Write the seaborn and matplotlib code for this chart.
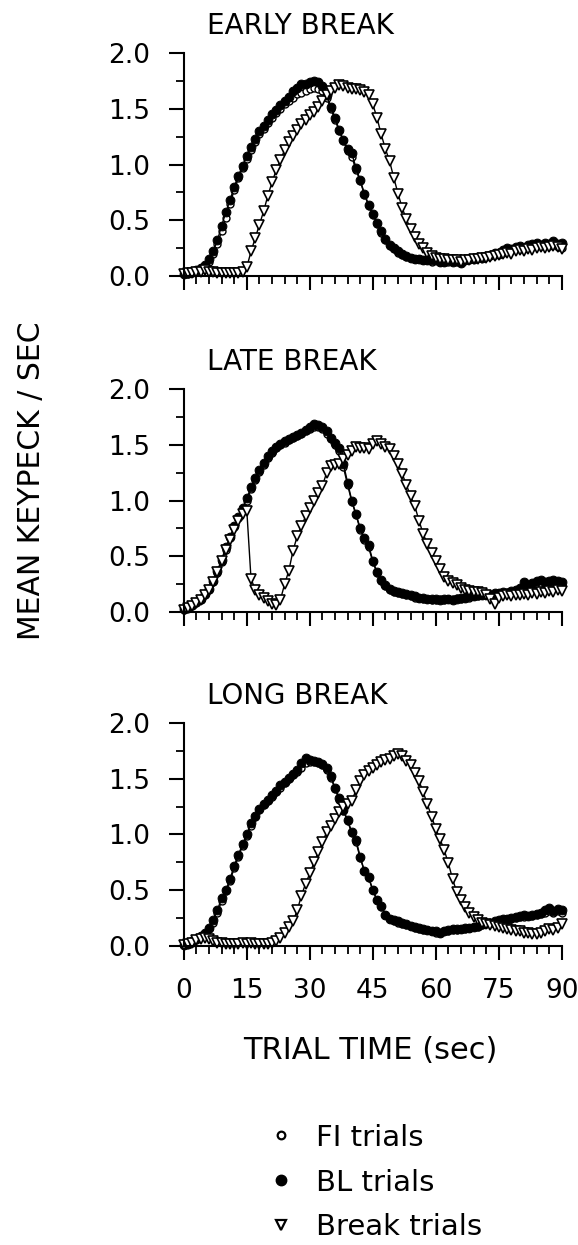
import matplotlib
matplotlib.use("Agg")
import matplotlib.pyplot as plt
from matplotlib.lines import Line2D
from matplotlib.ticker import MultipleLocator
import seaborn as sns

# trial time in 1-s bins
trial_sec = list(range(91))

panel_titles = ["EARLY BREAK", "LATE BREAK", "LONG BREAK"]

# --- EARLY BREAK ---
early_fi = [0.02, 0.02, 0.03, 0.05, 0.06, 0.09, 0.13, 0.20, 0.29, 0.40,
            0.52, 0.65, 0.77, 0.88, 0.97, 1.05, 1.13, 1.20, 1.27, 1.32,
            1.37, 1.42, 1.46, 1.50, 1.54, 1.57, 1.60, 1.63, 1.64, 1.66,
            1.68, 1.69, 1.68, 1.66, 1.60, 1.50, 1.40, 1.30, 1.21, 1.12,
            1.07, 0.95, 0.85, 0.73, 0.63, 0.55, 0.47, 0.39, 0.32, 0.27,
            0.24, 0.21, 0.19, 0.17, 0.16, 0.15, 0.15, 0.14, 0.14, 0.13,
            0.14, 0.13, 0.13, 0.13, 0.14, 0.13, 0.13, 0.14, 0.14, 0.15,
            0.16, 0.16, 0.17, 0.18, 0.19, 0.20, 0.21, 0.22, 0.23, 0.24,
            0.24, 0.25, 0.26, 0.26, 0.27, 0.27, 0.28, 0.27, 0.28, 0.26,
            0.25]
early_bl = [0.02, 0.03, 0.04, 0.05, 0.07, 0.10, 0.15, 0.22, 0.32, 0.45,
            0.57, 0.68, 0.80, 0.90, 0.99, 1.08, 1.16, 1.23, 1.30, 1.35,
            1.40, 1.45, 1.49, 1.53, 1.57, 1.61, 1.66, 1.69, 1.72, 1.72,
            1.74, 1.75, 1.74, 1.70, 1.62, 1.52, 1.42, 1.31, 1.22, 1.14,
            1.10, 0.97, 0.86, 0.74, 0.64, 0.56, 0.48, 0.40, 0.33, 0.28,
            0.25, 0.22, 0.20, 0.18, 0.16, 0.15, 0.15, 0.14, 0.14, 0.14,
            0.14, 0.13, 0.13, 0.14, 0.13, 0.14, 0.12, 0.14, 0.15, 0.15,
            0.17, 0.16, 0.18, 0.19, 0.21, 0.20, 0.23, 0.25, 0.24, 0.26,
            0.27, 0.25, 0.28, 0.29, 0.30, 0.28, 0.30, 0.29, 0.31, 0.29,
            0.30]
early_break = [0.02, 0.03, 0.03, 0.04, 0.04, 0.05, 0.04, 0.04, 0.03, 0.03,
               0.03, 0.03, 0.03, 0.03, 0.04, 0.08, 0.22, 0.34, 0.46, 0.58,
               0.72, 0.84, 0.95, 1.04, 1.13, 1.20, 1.26, 1.31, 1.36, 1.40,
               1.44, 1.47, 1.52, 1.57, 1.62, 1.66, 1.69, 1.71, 1.70, 1.69,
               1.68, 1.68, 1.67, 1.65, 1.62, 1.54, 1.42, 1.27, 1.14, 1.03,
               0.88, 0.74, 0.61, 0.51, 0.42, 0.35, 0.29, 0.25, 0.21, 0.18,
               0.16, 0.15, 0.15, 0.14, 0.14, 0.14, 0.13, 0.14, 0.14, 0.15,
               0.15, 0.16, 0.16, 0.17, 0.18, 0.19, 0.20, 0.21, 0.20, 0.22,
               0.23, 0.22, 0.24, 0.23, 0.25, 0.26, 0.25, 0.26, 0.27, 0.26,
               0.24]

# --- LATE BREAK ---
late_fi = [0.02, 0.04, 0.05, 0.08, 0.11, 0.15, 0.20, 0.27, 0.35, 0.45,
           0.56, 0.66, 0.76, 0.84, 0.92, 1.00, 1.10, 1.18, 1.26, 1.32,
           1.38, 1.43, 1.47, 1.50, 1.52, 1.54, 1.56, 1.58, 1.60, 1.62,
           1.64, 1.66, 1.66, 1.64, 1.60, 1.55, 1.50, 1.44, 1.30, 1.14,
           0.99, 0.87, 0.74, 0.65, 0.58, 0.45, 0.35, 0.28, 0.23, 0.20,
           0.18, 0.17, 0.16, 0.15, 0.14, 0.13, 0.13, 0.12, 0.12, 0.11,
           0.11, 0.12, 0.11, 0.12, 0.12, 0.13, 0.12, 0.13, 0.13, 0.14,
           0.14, 0.15, 0.15, 0.16, 0.16, 0.17, 0.17, 0.18, 0.18, 0.19,
           0.20, 0.21, 0.22, 0.23, 0.24, 0.25, 0.24, 0.25, 0.26, 0.25,
           0.24]
late_bl = [0.03, 0.04, 0.06, 0.09, 0.12, 0.16, 0.21, 0.28, 0.37, 0.47,
           0.58, 0.67, 0.77, 0.85, 0.93, 1.02, 1.12, 1.20, 1.27, 1.34,
           1.40, 1.44, 1.48, 1.51, 1.53, 1.55, 1.57, 1.59, 1.61, 1.63,
           1.66, 1.69, 1.68, 1.66, 1.62, 1.56, 1.52, 1.47, 1.33, 1.16,
           1.00, 0.88, 0.75, 0.66, 0.60, 0.46, 0.36, 0.29, 0.24, 0.21,
           0.19, 0.18, 0.17, 0.16, 0.15, 0.14, 0.13, 0.13, 0.12, 0.12,
           0.12, 0.11, 0.12, 0.12, 0.11, 0.12, 0.13, 0.13, 0.14, 0.14,
           0.15, 0.15, 0.16, 0.15, 0.17, 0.17, 0.18, 0.17, 0.19, 0.20,
           0.22, 0.27, 0.24, 0.26, 0.28, 0.29, 0.27, 0.28, 0.29, 0.28,
           0.27]
late_break = [0.02, 0.04, 0.05, 0.08, 0.11, 0.15, 0.20, 0.27, 0.36, 0.46,
              0.56, 0.65, 0.74, 0.82, 0.88, 0.91, 0.30, 0.20, 0.15, 0.13,
              0.10, 0.07, 0.06, 0.11, 0.25, 0.37, 0.55, 0.68, 0.77, 0.86,
              0.93, 1.00, 1.07, 1.13, 1.25, 1.31, 1.32, 1.33, 1.37, 1.41,
              1.44, 1.48, 1.47, 1.47, 1.46, 1.51, 1.53, 1.51, 1.48, 1.46,
              1.40, 1.33, 1.24, 1.14, 1.04, 0.95, 0.82, 0.70, 0.61, 0.53,
              0.46, 0.39, 0.31, 0.28, 0.26, 0.24, 0.22, 0.20, 0.19, 0.18,
              0.18, 0.17, 0.15, 0.12, 0.07, 0.13, 0.14, 0.15, 0.14, 0.15,
              0.15, 0.16, 0.15, 0.17, 0.16, 0.18, 0.17, 0.19, 0.18, 0.20,
              0.19]

# --- LONG BREAK ---
long_fi = [0.01, 0.02, 0.03, 0.05, 0.08, 0.11, 0.15, 0.21, 0.30, 0.40,
           0.49, 0.58, 0.70, 0.80, 0.90, 0.99, 1.08, 1.16, 1.22, 1.26,
           1.30, 1.34, 1.38, 1.42, 1.46, 1.50, 1.53, 1.56, 1.60, 1.64,
           1.65, 1.65, 1.64, 1.62, 1.58, 1.51, 1.41, 1.31, 1.21, 1.12,
           1.01, 0.93, 0.79, 0.67, 0.61, 0.50, 0.41, 0.35, 0.28, 0.24,
           0.22, 0.21, 0.20, 0.19, 0.18, 0.16, 0.15, 0.14, 0.14, 0.13,
           0.12, 0.12, 0.13, 0.13, 0.14, 0.14, 0.15, 0.15, 0.16, 0.17,
           0.17, 0.19, 0.20, 0.21, 0.21, 0.22, 0.23, 0.24, 0.24, 0.25,
           0.26, 0.26, 0.27, 0.27, 0.28, 0.29, 0.30, 0.31, 0.30, 0.31,
           0.30]
long_bl = [0.01, 0.02, 0.04, 0.06, 0.09, 0.12, 0.16, 0.23, 0.32, 0.43,
           0.50, 0.60, 0.72, 0.82, 0.91, 1.00, 1.10, 1.17, 1.23, 1.27,
           1.31, 1.35, 1.39, 1.44, 1.47, 1.51, 1.54, 1.58, 1.64, 1.69,
           1.67, 1.66, 1.65, 1.63, 1.60, 1.52, 1.42, 1.33, 1.22, 1.13,
           1.02, 0.95, 0.80, 0.67, 0.62, 0.50, 0.41, 0.36, 0.28, 0.24,
           0.23, 0.22, 0.21, 0.20, 0.18, 0.17, 0.16, 0.15, 0.14, 0.13,
           0.13, 0.12, 0.13, 0.14, 0.15, 0.15, 0.15, 0.16, 0.16, 0.17,
           0.18, 0.20, 0.21, 0.21, 0.22, 0.23, 0.24, 0.24, 0.25, 0.26,
           0.27, 0.28, 0.27, 0.28, 0.29, 0.30, 0.32, 0.34, 0.31, 0.33,
           0.32]
long_break = [0.01, 0.02, 0.03, 0.05, 0.06, 0.07, 0.06, 0.04, 0.03, 0.03,
              0.02, 0.02, 0.02, 0.02, 0.03, 0.02, 0.03, 0.02, 0.02, 0.02,
              0.02, 0.03, 0.04, 0.07, 0.12, 0.17, 0.22, 0.32, 0.45, 0.56,
              0.65, 0.75, 0.84, 0.93, 1.02, 1.08, 1.14, 1.20, 1.25, 1.27,
              1.30, 1.40, 1.48, 1.53, 1.57, 1.60, 1.62, 1.65, 1.67, 1.68,
              1.70, 1.72, 1.70, 1.66, 1.62, 1.55, 1.48, 1.38, 1.27, 1.16,
              1.05, 0.96, 0.86, 0.74, 0.60, 0.48, 0.41, 0.35, 0.30, 0.26,
              0.23, 0.21, 0.20, 0.19, 0.18, 0.17, 0.16, 0.15, 0.14, 0.13,
              0.13, 0.12, 0.12, 0.11, 0.11, 0.12, 0.13, 0.15, 0.14, 0.16,
              0.20]

x_ticks = [0, 15, 30, 45, 60, 75, 90]
y_ticks = [0.0, 0.5, 1.0, 1.5, 2.0]

sns.set_style("ticks")
plt.rcParams['font.family'] = ['DejaVu Sans']
plt.rcParams['axes.linewidth'] = 1.5
plt.rcParams['axes.edgecolor'] = 'black'
plt.rcParams['text.color'] = 'black'
plt.rcParams['xtick.color'] = 'black'
plt.rcParams['ytick.color'] = 'black'

fig = plt.figure(figsize=(5.78, 12.45), dpi=100)
axes_pos = [[0.318, 0.7783, 0.654, 0.1791],
            [0.318, 0.5084, 0.654, 0.1791],
            [0.318, 0.2402, 0.654, 0.1791]]

panels = [(early_fi, early_bl, early_break),
          (late_fi, late_bl, late_break),
          (long_fi, long_bl, long_break)]

for i, (pos, title, (fi, bl, brk)) in enumerate(zip(axes_pos, panel_titles, panels)):
    ax = fig.add_axes(pos)
    # FI first, BL on top of it, break trials last
    sns.lineplot(x=trial_sec, y=fi, ax=ax, color='black', lw=1.0, sort=False,
                 marker='o', markersize=5, markerfacecolor='white',
                 markeredgecolor='black', markeredgewidth=1.0, clip_on=False)
    sns.lineplot(x=trial_sec, y=bl, ax=ax, color='black', lw=1.0, sort=False,
                 marker='o', markersize=6.3, markerfacecolor='black',
                 markeredgecolor='black', clip_on=False)
    sns.lineplot(x=trial_sec, y=brk, ax=ax, color='black', lw=1.0, sort=False,
                 marker='v', markersize=6.5, markerfacecolor='white',
                 markeredgecolor='black', markeredgewidth=1.2, clip_on=False)

    ax.set_xlim(0, 90)
    ax.set_ylim(0, 2.0)
    ax.set_xticks(x_ticks)
    ax.set_yticks(y_ticks)
    ax.set_yticklabels([f'{v:.1f}' for v in y_ticks])
    ax.xaxis.set_minor_locator(MultipleLocator(3))
    ax.yaxis.set_minor_locator(MultipleLocator(0.25))
    ax.tick_params(axis='y', which='major', length=11, width=1.5, labelsize=19, pad=13)
    ax.tick_params(axis='y', which='minor', length=6, width=1.3)
    ax.tick_params(axis='x', which='major', length=10, width=1.5, labelsize=19, pad=13)
    ax.tick_params(axis='x', which='minor', length=6, width=1.3)
    if i < 2:
        ax.set_xticklabels([])
    ax.set_xlabel('')
    ax.set_ylabel('')
    sns.despine(ax=ax)
    ax.text(0.061, 1.085, title, transform=ax.transAxes, fontsize=20,
            ha='left', va='baseline')

fig.text(0.640, 0.156, 'TRIAL TIME (sec)', fontsize=22, ha='center', va='center')
fig.text(0.055, 0.614, 'MEAN KEYPECK / SEC', fontsize=21.5, rotation=90,
         ha='center', va='center')

handles = [
    Line2D([], [], ls='none', marker='o', markersize=5.5, markerfacecolor='white',
           markeredgecolor='black', markeredgewidth=1.6),
    Line2D([], [], ls='none', marker='o', markersize=7.5, markerfacecolor='black',
           markeredgecolor='black'),
    Line2D([], [], ls='none', marker='v', markersize=6.5, markerfacecolor='white',
           markeredgecolor='black', markeredgewidth=1.6),
]
fig.legend(handles, ['FI trials', 'BL trials', 'Break trials'],
           loc='upper left', bbox_to_anchor=(0.464, 0.0975), frameon=False,
           fontsize=21, handlelength=0.85, handletextpad=0.8, labelspacing=0.58,
           borderaxespad=0, borderpad=0)

fig.savefig('out.png', dpi=100)
